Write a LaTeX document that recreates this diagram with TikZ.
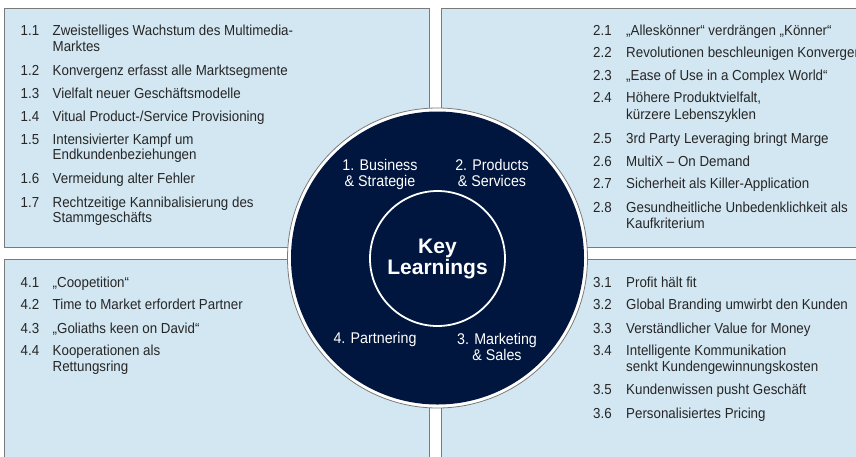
\documentclass[tikz,border=0pt]{standalone}
\usepackage{fontspec}
\setmainfont{Liberation Sans}[FakeStretch=0.92]
\newfontfamily\keyfont{Liberation Sans}
\definecolor{boxfill}{HTML}{D3E7F2}
\definecolor{boxline}{HTML}{7A7A7A}
\definecolor{navy}{HTML}{00163F}
\definecolor{txt}{HTML}{262626}
\tikzset{
  panel/.style={fill=boxfill,draw=boxline,line width=1.2pt},
  num/.style={anchor=base west,inner sep=0pt,text=txt,font=\fontsize{14.5}{16}\selectfont},
  item/.style={anchor=base west,inner sep=0pt,text=txt,font=\fontsize{14.5}{16}\selectfont},
  seg/.style={text=white,align=center,inner sep=0pt,font=\fontsize{15.5}{16}\selectfont},
}
\begin{document}
\begin{tikzpicture}[x=1pt,y=-1pt]
\useasboundingbox (0,0) rectangle (856,456);
\begin{scope}
\clip (0,0) rectangle (856,456);
\filldraw[panel] (4.5,8.5) rectangle (429.5,247.5);
\filldraw[panel] (441.5,8.5) rectangle (880,247.5);
\filldraw[panel] (4.5,259.5) rectangle (429.5,480);
\filldraw[panel] (441.5,259.5) rectangle (880,480);

% box 1
\foreach \n/\t/\y [count=\i] in {1.1/{Zweistelliges Wachstum des Multimedia-}/35,
  {}/{Marktes}/51.5, 1.2/{Konvergenz erfasst alle Marktsegmente}/75,
  1.3/{Vielfalt neuer Geschäftsmodelle}/98, 1.4/{Vitual Product-/Service Provisioning}/121,
  1.5/{Intensivierter Kampf um}/144, {}/{Endkundenbeziehungen}/159.5,
  1.6/{Vermeidung alter Fehler}/183, 1.7/{Rechtzeitige Kannibalisierung des}/207,
  {}/{Stammgeschäfts}/222.5}
{ \node[num] (an\i) at (20.5,\y) {\n}; \node[item] (at\i) at (52.5,\y) {\t}; }

% box 2
\foreach \n/\t/\y [count=\i] in {2.1/{„Alleskönner“ verdrängen „Könner“}/35,
  2.2/{Revolutionen beschleunigen Konvergenz}/57, 2.3/{„Ease of Use in a Complex World“}/80,
  2.4/{Höhere Produktvielfalt,}/102.5, {}/{kürzere Lebenszyklen}/119.5,
  2.5/{3rd Party Leveraging bringt Marge}/143, 2.6/{MultiX – On Demand}/166,
  2.7/{Sicherheit als Killer-Application}/188.5, 2.8/{Gesundheitliche Unbedenklichkeit als}/212,
  {}/{Kaufkriterium}/228}
{ \node[num] (bn\i) at (593,\y) {\n}; \node[item] (bt\i) at (626,\y) {\t}; }

% box 4
\foreach \n/\t/\y [count=\i] in {4.1/{„Coopetition“}/287, 4.2/{Time to Market erfordert Partner}/309.5,
  4.3/{„Goliaths keen on David“}/333, 4.4/{Kooperationen als}/355.5, {}/{Rettungsring}/371.5}
{ \node[num] (dn\i) at (20.5,\y) {\n}; \node[item] (dt\i) at (52.5,\y) {\t}; }

% box 3
\foreach \n/\t/\y [count=\i] in {3.1/{Profit hält fit}/287, 3.2/{Global Branding umwirbt den Kunden}/309.5,
  3.3/{Verständlicher Value for Money}/333, 3.4/{Intelligente Kommunikation}/355.5,
  {}/{senkt Kundengewinnungskosten}/371.5, 3.5/{Kundenwissen pusht Geschäft}/394.5,
  3.6/{Personalisiertes Pricing}/418}
{ \node[num] (cn\i) at (593,\y) {\n}; \node[item] (ct\i) at (626,\y) {\t}; }
\end{scope}

% circle
\node[circle,fill=white,draw=boxline,line width=0.8pt,minimum size=300pt,inner sep=0pt] (outer) at (437.5,258) {};
\node[circle,fill=navy,minimum size=293pt,inner sep=0pt] (ring) at (outer.center) {};
\node[circle,draw=white,line width=1.8pt,minimum size=135pt,inner sep=0pt,text=white,align=center,
  font=\keyfont\bfseries\fontsize{21}{22}\selectfont] (key) at (437.5,258.5) {Key\\[-1pt]Learnings};
\node[seg] (s1) at (380,174.5) {1. Business\\\& Strategie};
\node[seg] (s2) at (492,173) {2. Products\\\& Services};
\node[seg] (s3) at (497,346.5) {3. Marketing\\\& Sales};
\node[seg] (s4) at (375,339) {4. Partnering};
\end{tikzpicture}
\end{document}
